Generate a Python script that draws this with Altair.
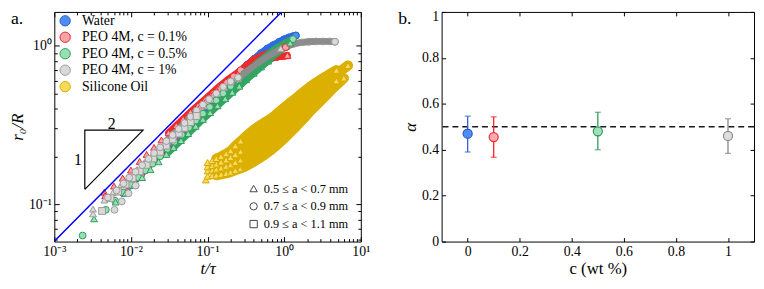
import altair as alt
import pandas as pd

FONT = "Liberation Serif"

# ---------------- panel (a) : categories and styles ----------------
series_names = ["Water", "PEO 4M, c = 0.1%", "PEO 4M, c = 0.5%", "PEO 4M, c = 1%", "Silicone Oil"]
size_names = ["0.5 ≤ a < 0.7 mm", "0.7 ≤ a < 0.9 mm", "0.9 ≤ a < 1.1 mm"]
size_shapes = ["triangle-up", "circle", "square"]
fill_colors = ["#4d8ef0", "#f7a3a9", "#97deb1", "#d9d9d9", "#f8da5c"]
stroke_colors = ["#2a5fcf", "#e8282d", "#2e9d5b", "#9a9a9a", "#d8aa00"]
band_colors = ["#2f6be0", "#f02a2a", "#34a462", "#8c8c8c", "#dbb000"]

# ---------------- panel (a) : curves ----------------
wc_t = [0.0079, 0.0095, 0.0115, 0.014, 0.017, 0.021, 0.026, 0.032, 0.04, 0.05,
        0.062, 0.077, 0.095, 0.118, 0.145, 0.18, 0.22, 0.27, 0.33, 0.41,
        0.5, 0.6, 0.72, 0.86, 1.0, 1.15, 1.3, 1.42]
wc_r = [0.117, 0.13, 0.143, 0.158, 0.175, 0.195, 0.217, 0.24, 0.268, 0.3,
        0.333, 0.37, 0.41, 0.455, 0.5, 0.57, 0.63, 0.69, 0.76, 0.83,
        0.9, 0.96, 1.01, 1.06, 1.1, 1.13, 1.15, 1.16]
rt_t = [0.0045, 0.0046, 0.006, 0.0078, 0.01, 0.013, 0.016, 0.02, 0.025, 0.031,
        0.039, 0.048, 0.06, 0.075, 0.093, 0.115, 0.14, 0.175, 0.215, 0.26,
        0.32, 0.39, 0.47, 0.56, 0.66, 0.76, 0.86, 0.96, 1.05, 1.1]
rt_r = [0.119, 0.113, 0.13, 0.146, 0.164, 0.186, 0.206, 0.228, 0.254, 0.282,
        0.313, 0.345, 0.382, 0.42, 0.46, 0.505, 0.55, 0.6, 0.645, 0.69,
        0.735, 0.77, 0.8, 0.82, 0.835, 0.845, 0.855, 0.86, 0.865, 0.87]
rc_t = [0.0089, 0.011, 0.0135, 0.0165, 0.02, 0.025, 0.03, 0.037, 0.045, 0.055,
        0.067, 0.082, 0.1, 0.122, 0.15, 0.18, 0.22, 0.27, 0.33, 0.4,
        0.48, 0.57, 0.68, 0.8, 0.93, 1.05]
rc_r = [0.119, 0.134, 0.151, 0.17, 0.19, 0.215, 0.238, 0.266, 0.295, 0.327,
        0.36, 0.4, 0.44, 0.485, 0.535, 0.585, 0.64, 0.7, 0.76, 0.82,
        0.86, 0.89, 0.92, 0.95, 0.97, 0.98]
gc_t = [0.00234, 0.0047, 0.0062, 0.008, 0.01, 0.0125, 0.0155, 0.019, 0.024, 0.03,
        0.037, 0.046, 0.057, 0.07, 0.087, 0.107, 0.13, 0.16, 0.2, 0.245,
        0.3, 0.37, 0.45, 0.55, 0.67, 0.8, 0.95, 1.1, 1.3]
gc_r = [0.0633, 0.092, 0.105, 0.118, 0.132, 0.147, 0.163, 0.18, 0.2, 0.223,
        0.247, 0.274, 0.304, 0.336, 0.372, 0.41, 0.452, 0.5, 0.555, 0.61,
        0.665, 0.725, 0.79, 0.85, 0.92, 0.98, 1.03, 1.07, 1.1]
gt_t = [0.0033, 0.0063, 0.0085, 0.011, 0.014, 0.018, 0.023, 0.029, 0.036, 0.045,
        0.056, 0.07, 0.087, 0.108, 0.135, 0.17, 0.21, 0.26, 0.32, 0.4,
        0.5, 0.62, 0.75, 0.9, 1.05, 1.2]
gt_r = [0.0807, 0.103, 0.117, 0.131, 0.147, 0.165, 0.185, 0.206, 0.228, 0.252,
        0.279, 0.31, 0.343, 0.378, 0.418, 0.463, 0.508, 0.555, 0.61, 0.67,
        0.735, 0.8, 0.865, 0.93, 0.99, 1.04]
kt_t = [0.0032, 0.0032, 0.0045, 0.0058, 0.0075, 0.0095, 0.012, 0.015, 0.019, 0.024,
        0.03, 0.038, 0.047, 0.058, 0.072, 0.09, 0.11, 0.135, 0.165, 0.2,
        0.25, 0.3, 0.37, 0.45, 0.55, 0.65, 0.77, 0.9]
kt_r = [0.093, 0.0867, 0.106, 0.118, 0.133, 0.148, 0.165, 0.183, 0.204, 0.228,
        0.253, 0.282, 0.31, 0.342, 0.378, 0.418, 0.458, 0.5, 0.545, 0.59,
        0.62, 0.665, 0.72, 0.775, 0.83, 0.875, 0.92, 0.96]
ks_t = [0.0042, 0.0054, 0.0068, 0.0085, 0.0105, 0.013, 0.016, 0.0195, 0.024, 0.029,
        0.035, 0.042, 0.05, 0.06, 0.072]
ks_r = [0.0905, 0.109, 0.12, 0.133, 0.146, 0.161, 0.177, 0.194, 0.214, 0.234,
        0.256, 0.279, 0.303, 0.33, 0.36]
kc2_t = [0.0061, 0.0076, 0.0093, 0.0115]
kc2_r = [0.092, 0.104, 0.117, 0.131]
kc_t = [0.005, 0.0065, 0.008, 0.0095, 0.0115, 0.014, 0.017, 0.02, 0.024, 0.029,
        0.035, 0.042, 0.05, 0.06, 0.072, 0.087, 0.105, 0.13, 0.16, 0.2,
        0.25, 0.32, 0.4, 0.5, 0.62, 0.76, 0.92, 1.1, 1.35, 1.7,
        2.1, 2.6, 3.2, 3.9, 4.6]
kc_r = [0.11, 0.122, 0.135, 0.147, 0.16, 0.176, 0.193, 0.21, 0.228, 0.25,
        0.273, 0.298, 0.325, 0.356, 0.39, 0.425, 0.46, 0.5, 0.55, 0.595,
        0.63, 0.69, 0.745, 0.8, 0.855, 0.905, 0.95, 0.995, 1.03, 1.05,
        1.06, 1.065, 1.065, 1.065, 1.06]
s1_t = [0.1, 0.115, 0.13, 0.15, 0.175, 0.2, 0.23, 0.27, 0.31, 0.36,
        0.42, 0.49, 0.57, 0.66, 0.77, 0.9, 1.05, 1.22, 1.42, 1.65,
        1.92, 2.23, 2.6, 3.0, 3.5, 4.1, 4.8]
s1_r = [0.183, 0.188, 0.194, 0.2, 0.208, 0.217, 0.233, 0.25, 0.265, 0.282,
        0.3, 0.315, 0.33, 0.345, 0.365, 0.39, 0.415, 0.44, 0.465, 0.495,
        0.525, 0.555, 0.585, 0.61, 0.64, 0.67, 0.70]
s2_t = [0.1, 0.115, 0.13, 0.15, 0.175, 0.2, 0.23, 0.27, 0.31, 0.36,
        0.42, 0.49, 0.57, 0.66, 0.77, 0.9, 1.05, 1.22, 1.42, 1.65,
        1.92, 2.23, 2.6, 3.0, 3.5, 4.1, 4.8, 5.6, 6.2, 6.8]
s2_r = [0.172, 0.175, 0.179, 0.184, 0.19, 0.197, 0.205, 0.215, 0.226, 0.24,
        0.254, 0.268, 0.283, 0.3, 0.318, 0.34, 0.362, 0.385, 0.41, 0.44,
        0.47, 0.5, 0.53, 0.56, 0.595, 0.63, 0.665, 0.7, 0.725, 0.75]
s3_t = [0.1, 0.115, 0.13, 0.15, 0.175, 0.2, 0.23, 0.27, 0.31, 0.36,
        0.42, 0.49, 0.57, 0.66, 0.77, 0.9, 1.05, 1.22, 1.42, 1.65,
        1.92, 2.23, 2.6, 3.0, 3.5, 4.1, 4.8]
s3_r = [0.162, 0.164, 0.166, 0.169, 0.173, 0.177, 0.183, 0.19, 0.198, 0.207,
        0.218, 0.23, 0.242, 0.256, 0.272, 0.29, 0.31, 0.332, 0.356, 0.382,
        0.41, 0.44, 0.47, 0.5, 0.535, 0.57, 0.6]
s4_t = [0.095, 0.1, 0.115, 0.13, 0.15, 0.175, 0.2, 0.23, 0.27, 0.31,
        0.36, 0.42, 0.49, 0.57, 0.66, 0.77, 0.9, 1.05, 1.22, 1.42,
        1.65, 1.92, 2.23, 2.6, 3.0, 3.5, 4.1, 4.8, 5.5, 6.0]
s4_r = [0.142, 0.15, 0.151, 0.152, 0.154, 0.156, 0.159, 0.163, 0.168, 0.173,
        0.18, 0.188, 0.197, 0.207, 0.218, 0.232, 0.248, 0.266, 0.286, 0.308,
        0.333, 0.36, 0.39, 0.42, 0.45, 0.485, 0.525, 0.565, 0.6, 0.625]

guide_t = [0.001, 1.014]
guide_r = [0.0582, 1.71]
tri_t = [0.0025, 0.0025, 0.0144, 0.0025]
tri_r = [0.124, 0.293, 0.293, 0.124]
tri_label_text = ["2", "1"]
tri_label_t = [0.0056, 0.00204]
tri_label_r = [0.319, 0.19]

x_min, x_max = 0.001, 10
y_min, y_max = 0.058, 1.635
x_major = [0.001, 0.01, 0.1, 1, 10]
x_major_labels = ["10⁻³", "10⁻²", "10⁻¹", "10⁰", "10¹"]
y_major = [0.1, 1]
y_major_labels = ["10⁻¹", "10⁰"]
x_minor = [k * 10.0 ** e for e in (-3, -2, -1, 0) for k in range(2, 10)]
y_minor = [k * 10.0 ** e for e in (-2, -1) for k in range(2, 10) if k * 10.0 ** e >= y_min]

# ---------------- panel (b) data ----------------
alpha_c = [0, 0.1, 0.5, 1]
alpha_val = [0.47, 0.455, 0.48, 0.46]
alpha_lo = [0.39, 0.367, 0.40, 0.384]
alpha_hi = [0.546, 0.543, 0.563, 0.535]
alpha_ref = 0.5
b_ticks = [0, 0.2, 0.4, 0.6, 0.8, 1]
err_colors = ["#2f63d4", "#ff1f1f", "#2e9a5c", "#858585"]
pt_fill = ["#4d8ef0", "#f9a9af", "#9fe2ba", "#dddddd"]
pt_stroke = ["#2857c8", "#f03030", "#2e9a5c", "#8a8a8a"]

# ---------------- build tables ----------------
curves = [
    ("W1", 0, 1, wc_t, wc_r),
    ("R1", 1, 0, rt_t, rt_r),
    ("R2", 1, 1, rc_t, rc_r),
    ("G1", 2, 1, gc_t, gc_r),
    ("G2", 2, 0, gt_t, gt_r),
    ("K1", 3, 0, kt_t, kt_r),
    ("K2", 3, 2, ks_t, ks_r),
    ("K3", 3, 1, kc2_t, kc2_r),
    ("K4", 3, 1, kc_t, kc_r),
    ("S4", 4, 0, s4_t, s4_r),
    ("S3", 4, 0, s3_t, s3_r),
    ("S2", 4, 0, s2_t, s2_r),
    ("S1", 4, 0, s1_t, s1_r),
]
curve_ids = [c[0] for c in curves]
curve_band = [band_colors[c[1]] for c in curves]
rows = []
for cid, si, zi, ts, rs in curves:
    n = len(ts)
    for k in range(n):
        rows.append({"curve": cid, "series": series_names[si], "size": size_names[zi],
                     "t": ts[k], "r": rs[k], "k": k, "n": n})
df_a = pd.DataFrame(rows)
df_guide = pd.DataFrame({"t": guide_t, "r": guide_r})
df_tri = pd.DataFrame({"t": tri_t, "r": tri_r, "o": list(range(len(tri_t)))})
df_tri_lab = pd.DataFrame({"t": tri_label_t, "r": tri_label_r, "s": tri_label_text})
df_b = pd.DataFrame({"c": alpha_c, "alpha": alpha_val, "lo": alpha_lo, "hi": alpha_hi,
                     "grp": ["w", "p1", "p5", "p10"]})


def arr_expr(labels, shift):
    return "[" + ",".join("'%s'" % s for s in labels) + "][round(log(datum.value)/LN10)+%d]" % shift


def mk_axis(orient, values, size, show_labels=False, title=None, label_expr=None, fmt=None,
            title_style="italic", title_size=17, title_pad=2, label_offset=None):
    kw = dict(orient=orient, values=values, tickSize=size, offset=-size, labels=show_labels,
              domain=False, grid=False, ticks=True, tickColor="black", tickWidth=1)
    if show_labels:
        kw.update(labelFontSize=14, labelPadding=3, labelFont=FONT, labelColor="black",
                  labelFlush=False, labelOverlap=False)
        if label_expr:
            kw["labelExpr"] = label_expr
        if fmt:
            kw["format"] = fmt
        if label_offset is not None:
            kw["labelOffset"] = label_offset
    if title is not None:
        kw.update(title=title, titleFontSize=title_size, titleFont=FONT, titleFontStyle=title_style,
                  titleFontWeight="normal", titlePadding=title_pad, titleColor="black")
    else:
        kw["title"] = None
    return alt.Axis(**kw)


xs_a = alt.Scale(type="log", domain=[x_min, x_max], nice=False)
ys_a = alt.Scale(type="log", domain=[y_min, y_max], nice=False)

color_legend = alt.Legend(title=None, orient="none", legendX=4, legendY=2, labelFontSize=14,
                          labelFont=FONT, labelColor="black", symbolType="circle", symbolSize=110,
                          symbolStrokeWidth=1, rowPadding=0.7, labelOffset=10, padding=0)
shape_legend = alt.Legend(title=None, orient="none", legendX=196, legendY=173, labelFontSize=12.5,
                          labelFont=FONT, labelColor="black", symbolSize=55, symbolFillColor="white",
                          symbolStrokeColor="#444444", symbolStrokeWidth=1, rowPadding=5,
                          labelOffset=4, padding=0)

fill_enc = alt.Fill("series:N", scale=alt.Scale(domain=series_names, range=fill_colors), legend=color_legend)
stroke_enc = alt.Stroke("series:N", scale=alt.Scale(domain=series_names, range=stroke_colors), legend=color_legend)
shape_enc = alt.Shape("size:N", scale=alt.Scale(domain=size_names, range=size_shapes), legend=shape_legend)
band_enc = alt.Color("curve:N", scale=alt.Scale(domain=curve_ids, range=curve_band), legend=None)

base_a = alt.Chart(df_a)
is_sil = "datum.series == 'Silicone Oil'"

under = base_a.transform_filter("datum.t > 0.025 && !(" + is_sil + ")").mark_line(
    strokeWidth=7, strokeCap="round", strokeJoin="round").encode(
    x=alt.X("t:Q", scale=xs_a, axis=mk_axis("bottom", x_minor, 3)),
    y=alt.Y("r:Q", scale=ys_a, axis=mk_axis("left", y_minor, 3)),
    color=band_enc, order="k:Q")

under_sil = base_a.transform_filter("datum.t > 0.125 && " + is_sil).mark_line(
    strokeWidth=10, strokeCap="round", strokeJoin="round").encode(
    x=alt.X("t:Q", scale=xs_a, axis=None), y=alt.Y("r:Q", scale=ys_a, axis=None),
    color=band_enc, order="k:Q")

pts = base_a.mark_point(filled=True, size=48, strokeWidth=1, opacity=1).encode(
    x=alt.X("t:Q", scale=xs_a, axis=mk_axis("bottom", x_major, 5, True, "t/τ", arr_expr(x_major_labels, 3))),
    y=alt.Y("r:Q", scale=ys_a, axis=mk_axis("left", y_major, 5, True, "r₀/R", arr_expr(y_major_labels, 1))),
    fill=fill_enc, stroke=stroke_enc, shape=shape_enc)

over = base_a.transform_filter("datum.t > 0.28 && !(" + is_sil + ")").mark_line(
    strokeWidth=6, strokeCap="round", strokeJoin="round").encode(
    x=alt.X("t:Q", scale=xs_a, axis=mk_axis("top", x_major, 5)),
    y=alt.Y("r:Q", scale=ys_a, axis=mk_axis("right", y_major, 5)),
    color=band_enc, order="k:Q")

over_sil = base_a.transform_filter("datum.t > 0.3 && " + is_sil).mark_line(
    strokeWidth=10, strokeCap="round", strokeJoin="round").encode(
    x=alt.X("t:Q", scale=xs_a, axis=None), y=alt.Y("r:Q", scale=ys_a, axis=None),
    color=band_enc, order="k:Q")

ends = base_a.transform_filter("datum.k == datum.n - 1").mark_point(
    filled=True, size=48, strokeWidth=1, opacity=1).encode(
    x=alt.X("t:Q", scale=xs_a, axis=mk_axis("top", x_minor, 3)),
    y=alt.Y("r:Q", scale=ys_a, axis=mk_axis("right", y_minor, 3)),
    fill=fill_enc, stroke=stroke_enc, shape=shape_enc)

guide = alt.Chart(df_guide).mark_line(color="#0000ff", strokeWidth=1.5, clip=True).encode(
    x=alt.X("t:Q", scale=xs_a, axis=None), y=alt.Y("r:Q", scale=ys_a, axis=None))

tri = alt.Chart(df_tri).mark_line(color="black", strokeWidth=1.2).encode(
    x=alt.X("t:Q", scale=xs_a, axis=None), y=alt.Y("r:Q", scale=ys_a, axis=None), order="o:Q")

tri_lab = alt.Chart(df_tri_lab).mark_text(font=FONT, fontSize=16, color="black", baseline="middle").encode(
    x=alt.X("t:Q", scale=xs_a, axis=None), y=alt.Y("r:Q", scale=ys_a, axis=None), text="s:N")

lab_a = alt.Chart(pd.DataFrame({"s": ["a."]})).mark_text(
    font=FONT, fontSize=18, align="left", baseline="top", color="black").encode(
    text="s:N", x=alt.value(-44), y=alt.value(-2))

left = alt.layer(under, under_sil, pts, over, over_sil, ends, guide, tri, tri_lab, lab_a).resolve_axis(
    x="independent", y="independent").properties(width=311, height=233)

# ---------------- panel (b) ----------------
xs_b = alt.Scale(domain=[-0.1, 1.1], nice=False, zero=False)
ys_b = alt.Scale(domain=[0, 1], nice=False)
grp_dom = ["w", "p1", "p5", "p10"]
err_enc = alt.Color("grp:N", scale=alt.Scale(domain=grp_dom, range=err_colors), legend=None)

dash = alt.Chart(pd.DataFrame({"y": [alpha_ref]})).mark_rule(
    strokeDash=[6, 4], strokeWidth=1.6, color="#1a1a1a").encode(
    y=alt.Y("y:Q", scale=ys_b, axis=None))

bars = alt.Chart(df_b).mark_rule(strokeWidth=1.3).encode(
    x=alt.X("c:Q", scale=xs_b, axis=mk_axis("top", b_ticks, 4)),
    y=alt.Y("lo:Q", scale=ys_b, axis=mk_axis("right", b_ticks, 4)),
    y2="hi:Q", color=err_enc)

caps = alt.Chart(df_b).transform_fold(["lo", "hi"], as_=["which", "v"]).mark_tick(
    orient="horizontal", size=6, thickness=1.3).encode(
    x=alt.X("c:Q", scale=xs_b, axis=None), y=alt.Y("v:Q", scale=ys_b, axis=None), color=err_enc)

top_label_shift = {"condition": {"test": "datum.value >= 1", "value": 5}, "value": 0}

dots = alt.Chart(df_b).mark_point(filled=True, size=85, strokeWidth=1.2, opacity=1).encode(
    x=alt.X("c:Q", scale=xs_b, axis=mk_axis("bottom", b_ticks, 4, True, "c (wt %)", fmt="~g",
                                           title_style="normal", title_size=17)),
    y=alt.Y("alpha:Q", scale=ys_b, axis=mk_axis("left", b_ticks, 4, True, "α", fmt="~g",
                                               label_offset=top_label_shift)),
    fill=alt.Fill("grp:N", scale=alt.Scale(domain=grp_dom, range=pt_fill), legend=None),
    stroke=alt.Stroke("grp:N", scale=alt.Scale(domain=grp_dom, range=pt_stroke), legend=None))

lab_b = alt.Chart(pd.DataFrame({"s": ["b."]})).mark_text(
    font=FONT, fontSize=18, align="left", baseline="top", color="black").encode(
    text="s:N", x=alt.value(-44), y=alt.value(-2))

right = alt.layer(dash, bars, caps, dots, lab_b).resolve_axis(
    x="independent", y="independent").properties(width=317, height=233)

chart = alt.hconcat(left, right, spacing=82, bounds="flush").resolve_scale(
    fill="independent", stroke="independent", color="independent", shape="independent"
).resolve_legend(
    fill="independent", stroke="independent", color="independent", shape="independent"
).properties(
    padding={"left": 0, "top": -1, "right": 0, "bottom": 0}
).configure(font=FONT).configure_view(stroke="black", strokeWidth=1).configure_text(font=FONT)

chart.save("out.html", embed_options={"renderer": "svg", "actions": False})
